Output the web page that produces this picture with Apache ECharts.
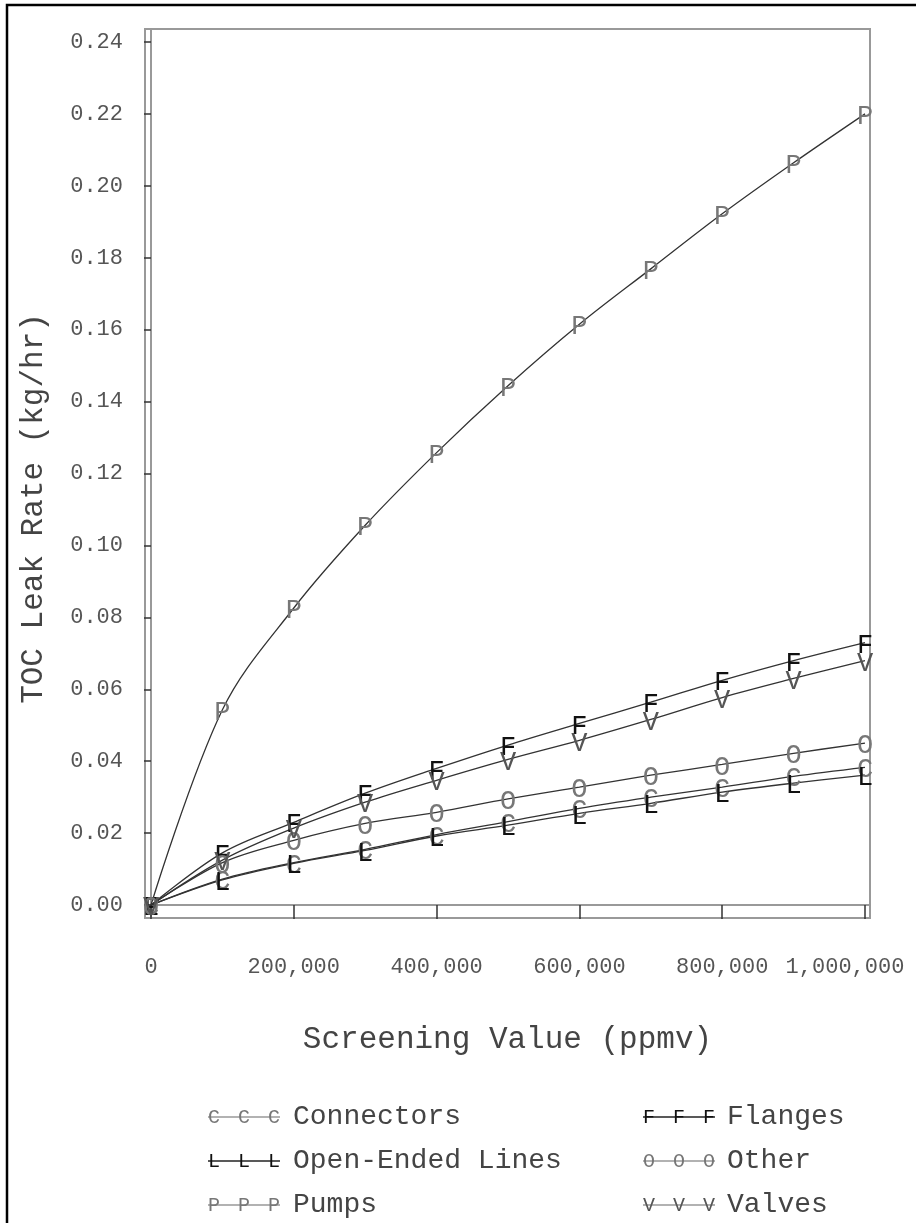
<!DOCTYPE html>
<html>
<head>
<meta charset="utf-8">
<title>TOC Leak Rate vs Screening Value</title>
<script src="https://cdn.jsdelivr.net/npm/echarts@6/dist/echarts.min.js"></script>
<style>
  html, body { margin: 0; padding: 0; background: #fff; }
  #chart { width: 916px; height: 1223px; }
</style>
</head>
<body>
<div id="chart"></div>
<script>
// screening values (ppmv) where each curve is evaluated
var screening = [0, 100000, 200000, 300000, 400000, 500000, 600000, 700000, 800000, 900000, 1000000];

// TOC leak rate (kg/hr)
var connectors = [0, 0.0072, 0.0118, 0.0155, 0.0196, 0.0232, 0.0269, 0.0300, 0.0328, 0.0358, 0.0383];
var openEnded  = [0, 0.0070, 0.0116, 0.0152, 0.0192, 0.0222, 0.0255, 0.0283, 0.0314, 0.0339, 0.0361];
var pumps      = [0, 0.0543, 0.0826, 0.1056, 0.1258, 0.1444, 0.1615, 0.1769, 0.1922, 0.2064, 0.2200];
var flanges    = [0, 0.0145, 0.0230, 0.0311, 0.0380, 0.0445, 0.0505, 0.0564, 0.0625, 0.0680, 0.0730];
var other      = [0, 0.0118, 0.0180, 0.0227, 0.0258, 0.0295, 0.0328, 0.0361, 0.0391, 0.0422, 0.0450];
var valves     = [0, 0.0125, 0.0214, 0.0286, 0.0347, 0.0405, 0.0458, 0.0516, 0.0577, 0.0630, 0.0680];

// tick labels
var xTicks = [0, 200000, 400000, 600000, 800000, 1000000];
var yTicks = [0, 0.02, 0.04, 0.06, 0.08, 0.10, 0.12, 0.14, 0.16, 0.18, 0.20, 0.22, 0.24];

var FONT = 'Liberation Mono';

// name, data, plot letter, letter colour (legend order: left column then right)
var groups = [
    { name: 'Connectors',       data: connectors, mark: 'C', color: '#777' },
    { name: 'Open-Ended Lines', data: openEnded,  mark: 'L', color: '#111' },
    { name: 'Pumps',            data: pumps,      mark: 'P', color: '#777' },
    { name: 'Flanges',          data: flanges,    mark: 'F', color: '#111' },
    { name: 'Other',            data: other,      mark: 'O', color: '#777' },
    { name: 'Valves',           data: valves,     mark: 'V', color: '#555' }
];

function fmtNum(v) {
    return String(v).replace(/\B(?=(\d{3})+(?!\d))/g, ',');
}

var series = groups.map(function (g) {
    return {
        name: g.name,
        type: 'line',
        smooth: 0.35,
        data: g.data.map(function (v, i) { return [screening[i], v]; }),
        symbol: 'circle',
        symbolSize: 0.1,
        itemStyle: { color: '#333' },
        lineStyle: { color: '#333', width: 1.3 },
        label: {
            show: true,
            position: 'inside',
            offset: [0, 3],
            formatter: g.mark,
            fontFamily: FONT,
            fontSize: 27,
            color: g.color
        },
        emphasis: { disabled: true },
        z: 3
    };
});

// hand drawn legend: line with three letters, then the name
var legendRows = [1117, 1161, 1205];
var legendCols = [{ sym: 208, txt: 293 }, { sym: 643, txt: 727 }];
var legendGraphics = [];
groups.forEach(function (g, i) {
    var col = legendCols[Math.floor(i / 3)];
    var y = legendRows[i % 3];
    legendGraphics.push({
        type: 'line',
        shape: { x1: col.sym, y1: y, x2: col.sym + 72, y2: y },
        style: { stroke: g.color === '#111' ? '#222' : '#999', lineWidth: 1.5 }
    });
    for (var k = 0; k < 3; k++) {
        legendGraphics.push({
            type: 'text',
            x: col.sym + 6 + k * 30,
            y: y + 1,
            style: {
                text: g.mark, font: '20px "' + FONT + '"',
                fill: g.color, align: 'center', verticalAlign: 'middle'
            }
        });
    }
    legendGraphics.push({
        type: 'text',
        x: col.txt,
        y: y,
        style: {
            text: g.name, font: '28px "' + FONT + '"',
            fill: '#444', align: 'left', verticalAlign: 'middle'
        }
    });
});

// outer frame of the figure
legendGraphics.push({
    type: 'polyline',
    shape: { points: [[7, 1223], [7, 5], [916, 5]] },
    style: { stroke: '#000', lineWidth: 2.5, fill: null }
});

var chart = echarts.init(document.getElementById('chart'));
var option = {
    animation: false,
    backgroundColor: '#fff',
    grid: {
        left: 145,
        top: 29,
        right: 46,
        bottom: 305,
        show: true,
        borderColor: '#999',
        borderWidth: 2
    },
    xAxis: {
        type: 'value',
        min: -8400,
        max: 1007000,
        name: 'Screening Value (ppmv)',
        nameLocation: 'middle',
        nameGap: 106,
        nameTextStyle: { fontFamily: FONT, fontSize: 31, color: '#444' },
        axisLine: { show: true, lineStyle: { color: '#999', width: 2 } },
        axisTick: {
            show: true, length: 14, customValues: xTicks,
            lineStyle: { color: '#333', width: 1.5 }
        },
        axisLabel: {
            customValues: xTicks,
            margin: 38,
            fontFamily: FONT,
            fontSize: 22,
            color: '#555',
            formatter: function (v) {
                if (v === 1000000) return '{last|' + fmtNum(v) + '}';
                return fmtNum(v);
            },
            rich: {
                last: { fontFamily: FONT, fontSize: 22, color: '#555', padding: [0, 40, 0, 0] }
            }
        },
        splitLine: { show: false }
    },
    yAxis: {
        type: 'value',
        min: -0.0036,
        max: 0.2436,
        name: 'TOC Leak Rate (kg/hr)',
        nameLocation: 'middle',
        nameGap: 96,
        nameTextStyle: {
            fontFamily: FONT, fontSize: 31, color: '#444',
            padding: [0, 70, 0, 0]
        },
        axisLine: { show: true, lineStyle: { color: '#999', width: 2 } },
        axisTick: {
            show: true, length: 7, customValues: yTicks,
            lineStyle: { color: '#333', width: 1.5 }
        },
        axisLabel: {
            customValues: yTicks,
            margin: 22,
            fontFamily: FONT,
            fontSize: 22,
            color: '#555',
            formatter: function (v) { return v.toFixed(2); }
        },
        splitLine: { show: false }
    },
    series: series,
    graphic: legendGraphics
};
chart.setOption(option);
window.addEventListener('resize', function () {
    chart.resize();
});
</script>
</body>
</html>
